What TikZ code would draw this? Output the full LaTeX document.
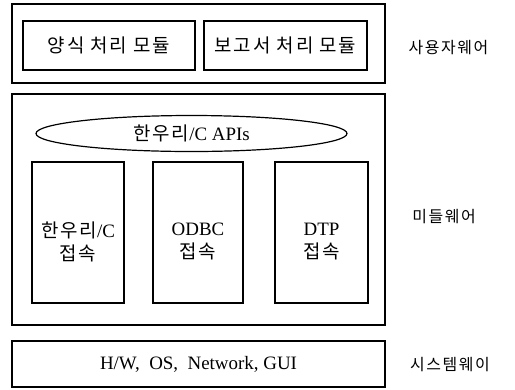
\documentclass[tikz,border=0pt]{standalone}
\usepackage{fontspec}
\setmainfont{Liberation Serif}
\newfontfamily\kr[Scale=1.0,LetterSpace=10]{Noto Sans CJK KR}
\usetikzlibrary{shapes.geometric}
\begin{document}
\begin{tikzpicture}[x=1bp,y=-1bp,
  frame/.style={draw,line width=1.2bp,inner sep=0pt,outer sep=0pt,rectangle},
  txt/.style={inner sep=0pt,font=\fontsize{19}{23}\selectfont,align=center},
  side/.style={inner sep=0pt,font=\fontsize{16}{20}\selectfont\kr}]
\useasboundingbox (0,0) rectangle (515,389);
% user-ware layer
\node[frame,minimum width=373bp,minimum height=79bp] (top) at (198.5,43.5) {};
\node[frame,minimum width=172bp,minimum height=49bp,txt] (form) at (109,45.5) {\kr 양식 처리 모듈};
\node[frame,minimum width=163bp,minimum height=49bp,txt] (report) at (285.5,45.5) {\kr 보고서 처리 모듈};
\node[side] (lbluser) at (448.5,48) {사용자웨어};
% middleware layer
\node[frame,minimum width=373bp,minimum height=231bp] (mid) at (198.5,209.5) {};
\node[draw,line width=1.2bp,ellipse,inner sep=0pt,minimum width=311bp,minimum height=36bp,txt] (api) at (191.5,133.5) {{\kr 한우리}/C APIs};
\node[frame,minimum width=92bp,minimum height=141bp] (boxa) at (78,232.5) {};
\node[frame,minimum width=90bp,minimum height=141bp] (boxb) at (198,232.5) {};
\node[frame,minimum width=93bp,minimum height=141bp] (boxc) at (321.5,232.5) {};
\node[txt] (ta) at (boxa.center) [yshift=-9bp] {{\kr 한우리}/C\\{\kr 접속}};
\node[txt] (tb) at (boxb.center) [yshift=-9bp] {ODBC\\{\kr 접속}};
\node[txt] (tc) at (boxc.center) [yshift=-9bp] {DTP\\{\kr 접속}};
\node[side] (lblmid) at (444,217) {미들웨어};
% system layer
\node[frame,minimum width=373bp,minimum height=46bp,txt] (sys) at (198.5,364) {H/W,\ \ OS,\ \ Network, GUI};
\node[side] (lblsys) at (450,365) {시스템웨이};
\end{tikzpicture}
\end{document}
